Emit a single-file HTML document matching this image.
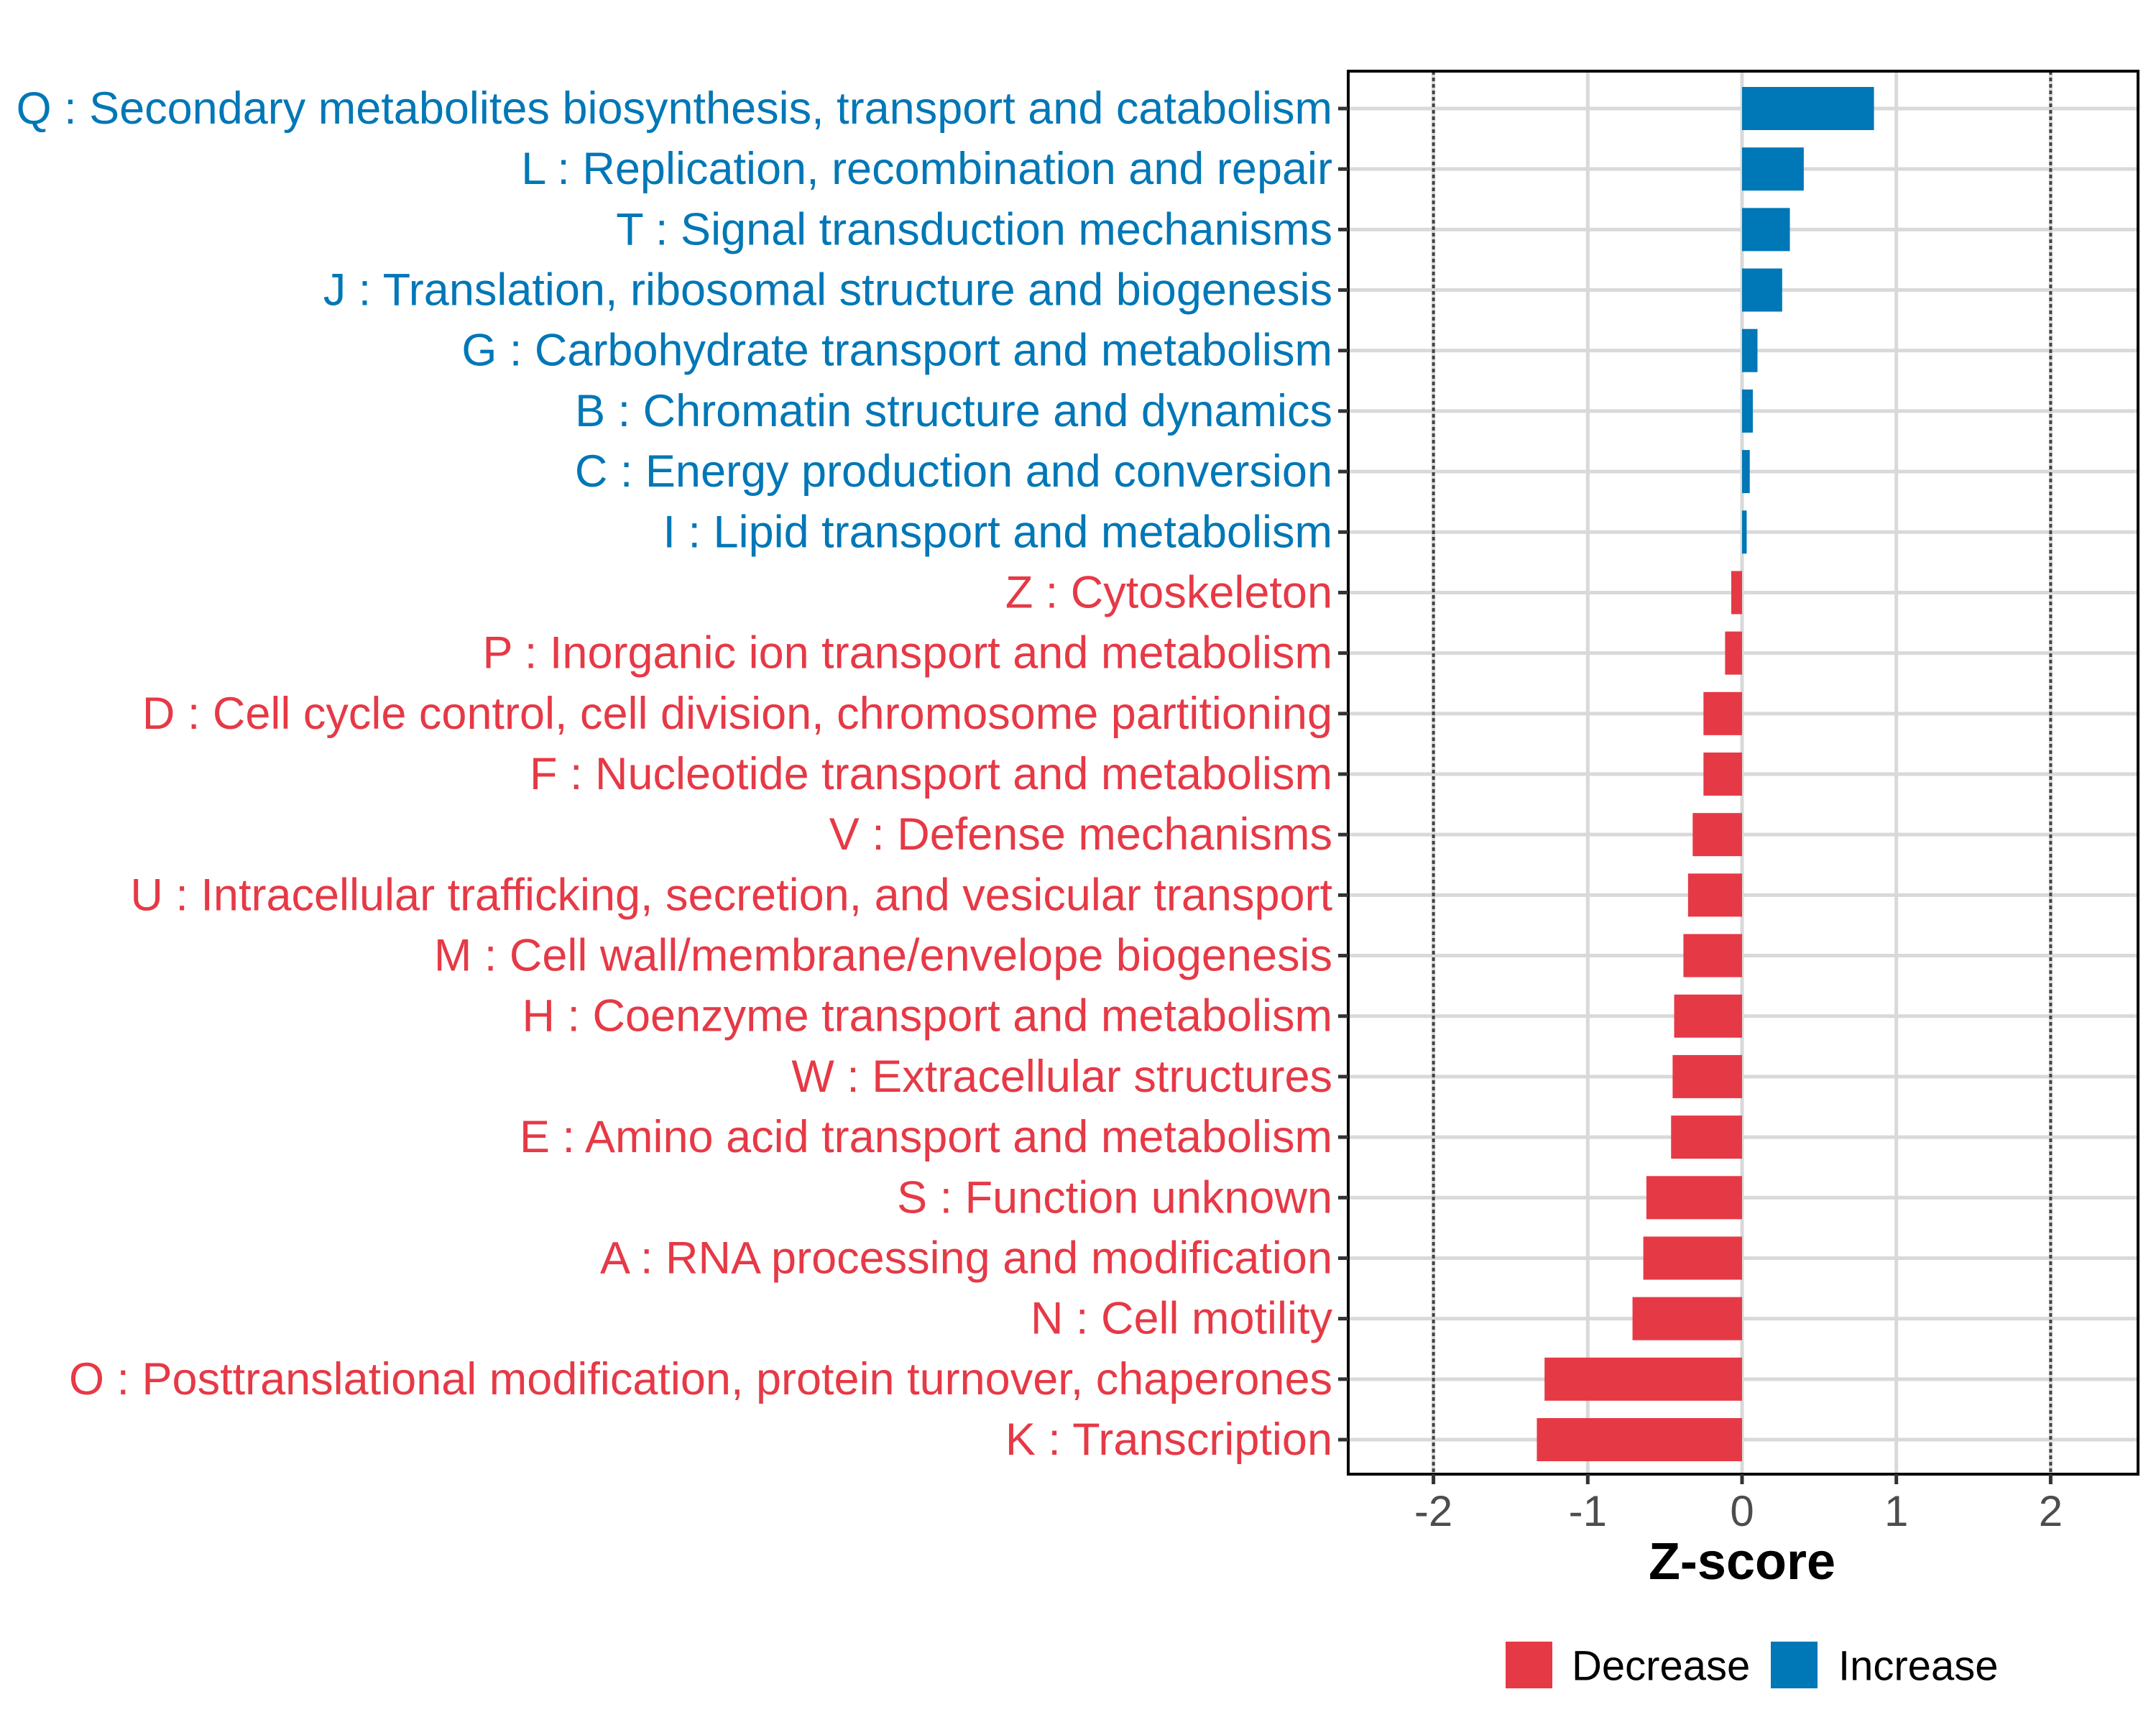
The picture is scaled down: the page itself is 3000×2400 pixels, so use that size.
<!DOCTYPE html>
<html><head><meta charset="utf-8"><style>
html,body{margin:0;padding:0;background:#fff;}
svg{display:block;font-family:"Liberation Sans",Arial,sans-serif;}
</style></head><body>
<svg id="chart" width="3000" height="2400" viewBox="0 0 3000 2400"></svg>
<script>
const categories=["Q : Secondary metabolites biosynthesis, transport and catabolism","L : Replication, recombination and repair","T : Signal transduction mechanisms","J : Translation, ribosomal structure and biogenesis","G : Carbohydrate transport and metabolism","B : Chromatin structure and dynamics","C : Energy production and conversion","I : Lipid transport and metabolism","Z : Cytoskeleton","P : Inorganic ion transport and metabolism","D : Cell cycle control, cell division, chromosome partitioning","F : Nucleotide transport and metabolism","V : Defense mechanisms","U : Intracellular trafficking, secretion, and vesicular transport","M : Cell wall/membrane/envelope biogenesis","H : Coenzyme transport and metabolism","W : Extracellular structures","E : Amino acid transport and metabolism","S : Function unknown","A : RNA processing and modification","N : Cell motility","O : Posttranslational modification, protein turnover, chaperones","K : Transcription"];
const zscores=[0.855,0.40,0.31,0.26,0.10,0.07,0.05,0.03,-0.07,-0.11,-0.25,-0.25,-0.32,-0.35,-0.38,-0.44,-0.45,-0.46,-0.62,-0.64,-0.71,-1.28,-1.33];
const xTicks=[-2,-1,0,1,2];
const xTickLabels=["-2","-1","0","1","2"];
const refLines=[-2,2];
const legendLabels=["Decrease","Increase"];

const NS="http://www.w3.org/2000/svg";
const svg=document.getElementById('chart');
const RED="#E63946",BLUE="#0077B6";
const P={l:1876,r:2975,t:99,b:2051};
const x0=2424,unit=214.7;
function xs(v){return x0+v*unit;}
const yTop=151,yStep=(2003-151)/(categories.length-1);
function ys(i){return yTop+i*yStep;}
function el(tag,attrs,parent){const e=document.createElementNS(NS,tag);for(const k in attrs)e.setAttribute(k,attrs[k]);(parent||svg).appendChild(e);return e;}

xTicks.forEach((t,i)=>{
  const g=el('line',{x1:xs(t),x2:xs(t),y1:P.t,y2:P.b,stroke:'#d9d9d9','stroke-width':5});
  
  
});
categories.forEach((c,i)=>{
  const g=el('line',{x1:P.l,x2:P.r,y1:ys(i),y2:ys(i),stroke:'#d9d9d9','stroke-width':5});
  
  
});
refLines.forEach(v=>{
  const g=el('line',{x1:xs(v),x2:xs(v),y1:P.t,y2:P.b,stroke:'#444','stroke-width':4,'stroke-dasharray':'5 4'});
  
  
});
const bh=60;
zscores.forEach((v,i)=>{
  const x1=Math.min(xs(0),xs(v)),w=Math.abs(xs(v)-xs(0));
  const b=el('rect',{x:x1,y:ys(i)-bh/2,width:w,height:bh,fill:v>=0?BLUE:RED});
  
  
});
const pb=el('rect',{x:P.l,y:P.t,width:P.r-P.l,height:P.b-P.t,fill:'none',stroke:'#000','stroke-width':4});


categories.forEach((c,i)=>{
  const tk=el('line',{x1:P.l-14,x2:P.l,y1:ys(i),y2:ys(i),stroke:'#333','stroke-width':5});
  
  
  const t=el('text',{x:P.l-22,y:ys(i),'text-anchor':'end','dominant-baseline':'central','font-size':63,fill:zscores[i]>=0?BLUE:RED});
  t.textContent=c;
  
  
});
xTicks.forEach((v,i)=>{
  const tk=el('line',{x1:xs(v),x2:xs(v),y1:P.b,y2:P.b+14,stroke:'#333','stroke-width':5});
  
  
  const t=el('text',{x:xs(v),y:P.b+72,'text-anchor':'middle','font-size':60,fill:'#4d4d4d'});
  t.textContent=xTickLabels[i];
  
  
});
const xt=el('text',{x:xs(0),y:2197,'text-anchor':'middle','font-size':72,'font-weight':'bold',fill:'#000'});
xt.textContent='Z-score';


const lx=[2095,2464],ltx=[2187,2558],lc=[RED,BLUE];
legendLabels.forEach((lab,i)=>{
  const r=el('rect',{x:lx[i],y:2284,width:65,height:65,fill:lc[i]});
  
  
  const t=el('text',{x:ltx[i],y:2318,'dominant-baseline':'central','font-size':58,fill:'#000'});
  t.textContent=lab;
  
  
});
</script>
</body></html>
